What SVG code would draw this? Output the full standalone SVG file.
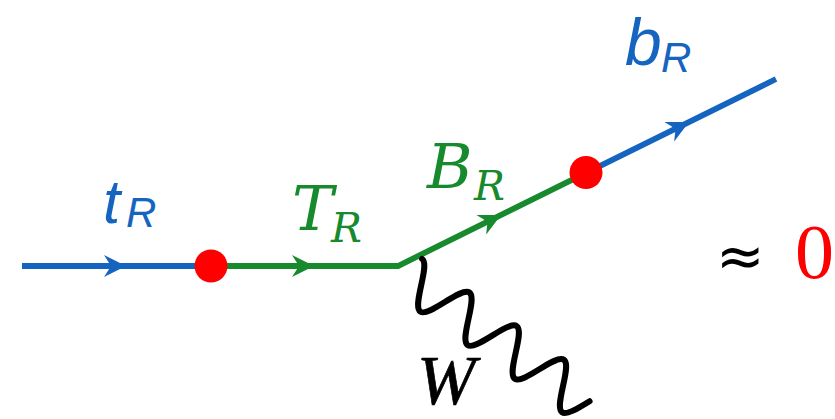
<svg xmlns="http://www.w3.org/2000/svg" width="835" height="419" viewBox="0 0 835 419">
<style>
.blue{stroke:#1464c0;fill:none;stroke-width:5.8}
.green{stroke:#168a2c;fill:none;stroke-width:5.8;stroke-linejoin:miter}
.wave{stroke:#000;fill:none;stroke-width:6;stroke-linecap:round}
.dot{fill:#ff0000}
.sans{font-family:"Liberation Sans","DejaVu Sans",sans-serif;font-style:italic;fill:#1464c0}
.serif{font-family:"DejaVu Serif","Liberation Serif",serif;font-style:italic;fill:#168a2c}
.ab{fill:#1464c0}
.ag{fill:#168a2c}
</style>
<defs>
<path id="arr" d="M0,0 L-22,-11 L-15,0 L-22,11 Z"/>
</defs>
<rect width="835" height="419" fill="#fff"/>
<g id="connectors">
<line class="blue" x1="22" y1="266" x2="211" y2="266"/>
<polyline class="green" points="211,266 398,266 586,172.9"/>
<line class="blue" x1="586" y1="172.9" x2="776" y2="79"/>
<path class="wave" d="M422.1,258.9 C430.6,264.9 411.8,305.6 420.3,311.6 C428.8,317.6 460.9,286.5 469.4,292.5 C477.9,298.5 459.1,339.1 467.6,345.1 C476.1,351.1 508.2,320.1 516.7,326.1 C525.2,332.1 506.3,372.7 514.8,378.7 C523.3,384.7 555.4,353.7 563.9,359.7 C572.4,365.7 553.6,406.3 562.1,412.3 C566.6,415.5 578.7,407.9 589.6,401.2"/>
<use href="#arr" class="ab" transform="translate(126,266)"/>
<use href="#arr" class="ag" transform="translate(314,266)"/>
<use href="#arr" class="ag" transform="translate(501,215) rotate(-26.3)"/>
<use href="#arr" class="ab" transform="translate(689,122) rotate(-26.3)"/>
</g>
<g id="vertex1"><circle class="dot" cx="211" cy="266" r="16.5"/></g>
<g id="vertex2"><circle class="dot" cx="586" cy="172.5" r="16.5"/></g>
<g id="label-tR"><text class="sans" x="103" y="223" font-size="62">t<tspan x="126" y="227" font-size="42">R</tspan></text></g>
<g id="label-TR"><text class="serif" x="292" y="230" font-size="62">T<tspan x="331" y="242" font-size="41">R</tspan></text></g>
<g id="label-BR"><text class="serif" x="427" y="188" font-size="62">B<tspan x="474" y="200" font-size="41">R</tspan></text></g>
<g id="label-bR"><text class="sans" x="625" y="65" font-size="66">b<tspan x="661" y="72" font-size="42">R</tspan></text></g>
<g id="label-W"><text x="417" y="403.5" font-family="Liberation Serif, serif" font-style="italic" font-size="70" fill="#000" stroke="#000" stroke-width="0.7">W</text></g>
<g id="result"><text x="716" y="276" font-family="DejaVu Sans, sans-serif" font-size="58" fill="#000">≈</text><text x="795" y="278" font-family="Liberation Serif, serif" font-size="78" fill="#ff0000">0</text></g>
</svg>
